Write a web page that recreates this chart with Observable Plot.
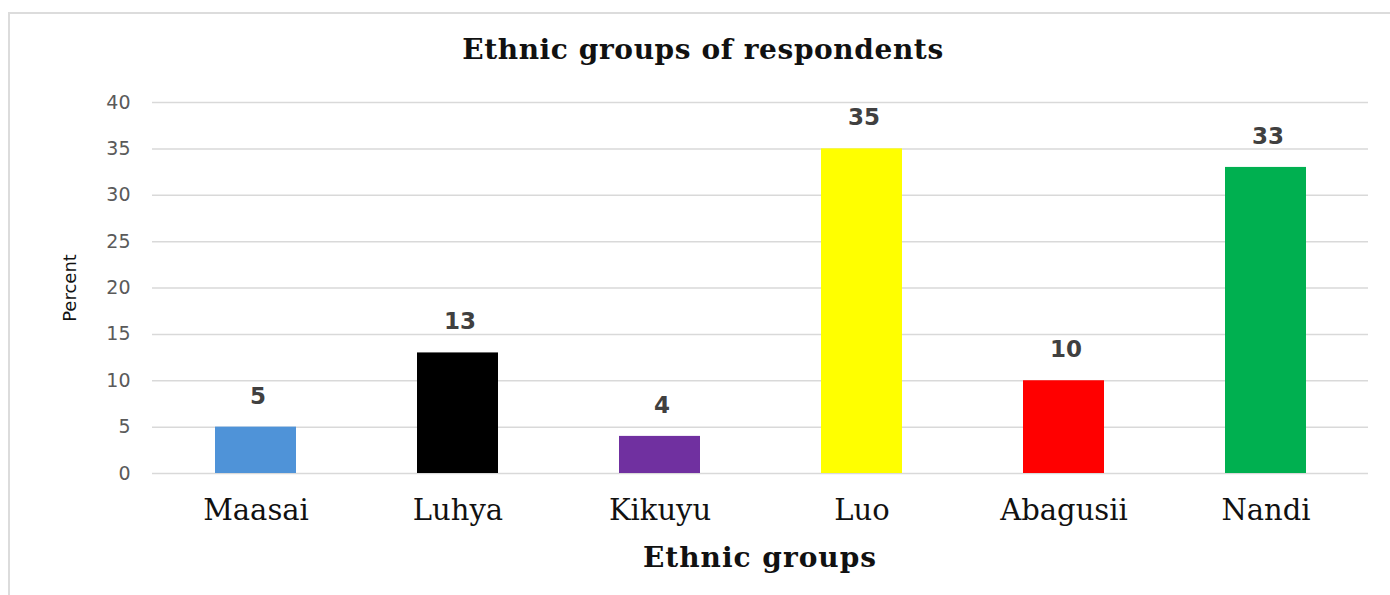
<!DOCTYPE html>
<html>
<head>
<meta charset="utf-8">
<script src="https://cdn.jsdelivr.net/npm/d3@7"></script>
<script src="https://cdn.jsdelivr.net/npm/@observablehq/plot@0.6"></script>
<style>
  html, body { margin: 0; padding: 0; background: #fff; }
  #page { position: relative; width: 1390px; height: 595px; overflow: hidden; }
  #frame { position: absolute; left: 8px; top: 12px; width: 1400px; height: 600px; border-left: 2px solid #dcdcdc; border-top: 2px solid #dcdcdc; }
  #title { position: absolute; left: 0; width: 1406px; top: 31px; text-align: center; font-family: "DejaVu Serif", serif; font-weight: bold; font-size: 28px; letter-spacing: 0.6px; color: #111; line-height: 38px; }
  #chart { position: absolute; left: 0; top: 85px; }
  #xtitle { position: absolute; left: 152px; width: 1216px; top: 539px; text-align: center; font-family: "DejaVu Serif", serif; font-weight: bold; font-size: 28px; letter-spacing: 1px; color: #111; line-height: 38px; }
</style>
</head>
<body>
<div id="page">
  <div id="frame"></div>
  <div id="title">Ethnic groups of respondents</div>
  <div id="chart"></div>
  <div id="xtitle">Ethnic groups</div>
</div>
<script>
const groups = ["Maasai", "Luhya", "Kikuyu", "Luo", "Abagusii", "Nandi"];
const percents = [5, 13, 4, 35, 10, 33];
const colors = ["#4f93d8", "#000000", "#7030a0", "#ffff00", "#ff0000", "#00b050"];
const yTicks = [0, 5, 10, 15, 20, 25, 30, 35, 40];

const data = groups.map((g, i) => ({group: g, value: percents[i], color: colors[i]}));

const chart = Plot.plot({
  width: 1390,
  height: 450,
  marginLeft: 152,
  marginRight: 22,
  marginTop: 17,
  marginBottom: 62,
  style: {background: "transparent", overflow: "visible"},
  x: {domain: groups, paddingInner: 0.6, paddingOuter: 0.3, label: null},
  y: {domain: [0, 40], label: null},
  marks: [
    Plot.gridY(yTicks, {stroke: "#d9d9d9", strokeOpacity: 1, strokeWidth: 1.5}),
    Plot.barY(data, {x: "group", y: "value", fill: "color"}),
    Plot.axisY(yTicks, {tickSize: 0, tickPadding: 22, fontSize: 19, fill: "#5a5a5a", fontFamily: "DejaVu Sans, sans-serif", label: null, style: "letter-spacing:2.5px"}),
    Plot.axisX({tickSize: 0, tickPadding: 26, fontSize: 29, fill: "#111", fontFamily: "DejaVu Serif, serif", label: null, style: "letter-spacing:0.6px"}),
    Plot.text(data, {x: "group", y: "value", text: d => String(d.value), dy: -31, dx: 2, fontSize: 23, fontWeight: "bold", fill: "#404040", fontFamily: "DejaVu Sans, sans-serif", style: "letter-spacing:4px"}),
    Plot.text(["Percent"], {frameAnchor: "left", dx: -82, rotate: -90, textAnchor: "middle", fontSize: 18, fill: "#111", fontFamily: "DejaVu Sans, sans-serif"})
  ]
});
document.getElementById("chart").appendChild(chart);
</script>
</body>
</html>
